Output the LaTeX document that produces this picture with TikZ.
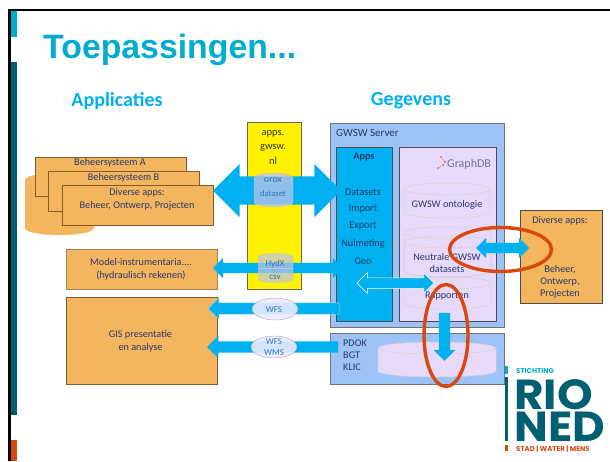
\documentclass[tikz,border=0pt]{standalone}
\usepackage{fontspec}
\setmainfont{Carlito}
\newfontfamily\titlefont{Liberation Sans}
\newfontfamily\logofont{Poppins}
\usetikzlibrary{shapes.geometric}
\usetikzlibrary{shapes.arrows}
\definecolor{rioCyan}{HTML}{00ADCF}
\definecolor{rioTeal}{HTML}{005F70}
\definecolor{rioOrange}{HTML}{D9480F}
\definecolor{arrowBlue}{HTML}{00B0F0}
\definecolor{boxOrange}{HTML}{F4B55F}
\definecolor{serverBlue}{HTML}{9DC3F6}
\definecolor{panelLilac}{HTML}{E7D9F9}
\definecolor{labelNavy}{HTML}{27386B}
\definecolor{labelBlue}{HTML}{2E75B6}
\tikzset{
  every node/.style={text=labelNavy,font=\fontsize{10.2}{12}\selectfont,inner sep=0pt,align=center},
  appbox/.style={draw=brown!70!black,fill=boxOrange,line width=0.8pt},
  serverbox/.style={draw=gray!90!black,fill=serverBlue,line width=0.8pt},
  blockboth/.style={double arrow,fill=arrowBlue,double arrow head extend=#1,double arrow head indent=0pt},
  blockone/.style={single arrow,fill=arrowBlue,single arrow head extend=#1,single arrow head indent=0pt},
  diskline/.style={draw=gray!35,line width=0.5pt},
  redring/.style={ellipse,draw=rioOrange,line width=3.4pt,fill=none},
  proxy/.style={ellipse,draw=gray!70,fill=blue!8,fill opacity=0.9,text=labelBlue,text opacity=1},
  smalltag/.style={text=labelBlue,font=\fontsize{#1}{10.5}\selectfont},
}
% name, look, centre x, top y, bottom y, radius x, radius y
\newcommand{\dbdisk}[7]{
  \coordinate (#1) at (#3,#4);
  \path[#2] (#3-#6,#4) -- (#3-#6,#5) arc[start angle=180,end angle=360,x radius=#6pt,y radius=#7pt] -- (#3+#6,#4) arc[start angle=0,end angle=180,x radius=#6pt,y radius=#7pt] arc[start angle=180,end angle=360,x radius=#6pt,y radius=#7pt];
}
\begin{document}
\begin{tikzpicture}[x=1pt,y=-1pt]
  \useasboundingbox (0,0) rectangle (610,461);
  % slide frame
  \fill[black] (8,9) rectangle (610,11);
  \fill[black] (8,9) rectangle (11,461);
  \fill[rioCyan] (11,11) rectangle (17,37);
  \fill[rioTeal] (11,62) rectangle (17,415);
  \fill[rioOrange] (11,440) rectangle (17,461);

  \node[anchor=base west,text=rioCyan,font=\titlefont\bfseries\fontsize{33.8}{35}\selectfont] (title) at (43,58) {Toepassingen...};
  \node[text=arrowBlue,font=\bfseries\fontsize{20}{22}\selectfont] (appshead) at (117,101) {Applicaties};
  \node[text=arrowBlue,font=\bfseries\fontsize{20}{22}\selectfont] (datahead) at (411,101) {Gegevens};

  % applications
  \dbdisk{sourcedb}{draw=boxOrange!80!white,fill=boxOrange}{59.5}{180}{228}{34.5}{7}
  \node[appbox,minimum width=151,minimum height=39] (sysA) at (110.5,176.5) {};
  \node (sysAtext) at (110,163) {Beheersysteem A};
  \node[appbox,minimum width=151,minimum height=40] (sysB) at (123.5,191) {};
  \node (sysBtext) at (123.5,178) {Beheersysteem B};
  \node[appbox,minimum width=151,minimum height=40] (sysC) at (137.5,205) {};
  \node (sysCtext) at (137,199.5) {Diverse apps:\\[1pt]Beheer, Ontwerp, Projecten};
  \node[appbox,draw=brown!60!gray,minimum width=151,minimum height=40] (model) at (141.5,269) {};
  \node (modeltext) at (141,269.5) {Model-instrumentaria....\\[1pt](hydraulisch rekenen)};
  \node[appbox,minimum width=151,minimum height=87] (gis) at (141.5,340.5) {};
  \node (gistext) at (140.5,341.5) {GIS presentatie\\[1pt]en analyse};

  \node[draw=gray!80!black,fill=yellow,line width=0.8pt,minimum width=54,minimum height=167] (portal) at (274,205.5) {};
  \node[text=black!80,font=\fontsize{10.5}{14.5}\selectfont] (portaltext) at (273,147) {apps.\\gwsw.\\nl};

  % server
  \node[serverbox,minimum width=174,minimum height=204] (server) at (417,225) {};
  \node[anchor=west,font=\fontsize{11}{12}\selectfont] (servertext) at (336,133) {GWSW Server};
  \node[draw=black!70,fill=arrowBlue,minimum width=56,minimum height=174] (apps) at (364,234) {};
  \node[font=\bfseries\fontsize{10.2}{12}\selectfont] (appstitle) at (364,157) {Apps};
  \foreach \y/\name/\word in {192/a/Datasets,209/b/Import,226/c/Export,244/d/Nulmeting,261/e/Geo}
  {
  \node (app\name) at (363,\y) {\word};
}
  \node[draw=black!70,fill=panelLilac,minimum width=97,minimum height=174] (graphdb) at (447.5,234) {};
  \node[serverbox,minimum width=174,minimum height=51] (lower) at (417,358.5) {};
  \node[anchor=west] (pdok) at (343,343) {PDOK};
  \node[anchor=west] (bgt) at (343,355) {BGT};
  \node[anchor=west] (klic) at (343,367) {KLIC};
  \dbdisk{tiledb}{diskline,fill=panelLilac}{437}{348}{371}{59}{6}

  % graphdb logo
  \node[anchor=west,text=gray!90!blue,font=\fontsize{12}{12}\selectfont] (graphlogo) at (447,164) {GraphDB};
  \foreach \x/\y/\name in {441/157/a,445/162/b,443/165/c,438/168/d}
  {
  \node[circle,fill=rioOrange!85,minimum size=2pt] (dot\name) at (\x,\y) {};
}
  \draw[rioOrange!70,line width=0.4pt] (dota) -- (dotb) -- (dotc) -- (dotd);

  \dbdisk{ontodb}{diskline}{447}{189}{212}{43}{6}
  \dbdisk{neutralback}{diskline}{447.5}{233}{271}{43.5}{6}
  \dbdisk{neutraldb}{diskline}{447.5}{242}{271}{43.5}{6}
  \dbdisk{reportdb}{diskline}{447.5}{283}{303}{43.5}{6}
  \node (ontotext) at (447,205) {GWSW ontologie};
  \node (neutraltext) at (447,263) {Neutrale GWSW\\datasets};
  \node (reporttext) at (447,296) {Rapporten};

  \node[appbox,draw=gray!60!black,minimum width=82,minimum height=93] (sideapps) at (561,256.5) {};
  \node (sidetitle) at (560,221) {Diverse apps:};
  \node (sidetext) at (560,282) {Beheer,\\Ontwerp,\\Projecten};

  % block arrows
  \node[blockboth=12.5,inner sep=14,minimum height=128] (bigflow) at (277,190.5) {};
  \node[blockboth=5,inner sep=5,minimum height=130] (hydflow) at (278,268) {};
  \node[blockone=5,shape border rotate=180,draw=white!60!arrowBlue,line width=0.4pt,inner sep=5.5,minimum height=131] (wfsflow) at (276.5,308.5) {};
  \node[blockone=5.5,shape border rotate=180,inner sep=5.5,minimum height=131] (wmsflow) at (275.5,347) {};
  \node[blockboth=5,draw=white,line width=0.5pt,inner sep=5,minimum height=77] (innerflow) at (395.5,283) {};
  \node[blockboth=5,inner sep=5,minimum height=53] (sideflow) at (502.5,248) {};
  \node[blockone=5,shape border rotate=270,inner sep=5.5,minimum height=48] (downflow) at (444.5,334) {};

  % proxies on the arrows
  \dbdisk{oroxdb}{draw=gray!45,fill=cyan!30!blue!25,fill opacity=0.75}{273.5}{178}{202}{19.5}{5}
  \node[smalltag=10] (oroxtext) at (273,180) {orox};
  \node[smalltag=8.5] (datasettext) at (273,194) {dataset};
  \dbdisk{hydxdb}{draw=gray!45,fill=cyan!30!blue!25,fill opacity=0.7}{275.5}{257}{279}{17.5}{3.5}
  \draw[gray!45] (258,268) -- (293,268);
  \node[smalltag=9] (hydxtext) at (275,264) {HydX};
  \node[smalltag=9] (csvtext) at (275,277) {csv};
  \node[proxy,minimum width=46,minimum height=22] (wfsring) at (275,309) {};
  \node[smalltag=9] (wfstext) at (274,310) {WFS};
  \node[proxy,minimum width=46,minimum height=22] (wmsring) at (274,347) {};
  \node[smalltag=9] (wmstext) at (274,347) {WFS\\WMS};

  % highlights
  \node[redring,minimum width=102,minimum height=44] (sidering) at (500.5,249.5) {};
  \node[redring,minimum width=44,minimum height=102] (downring) at (446,335.5) {};

  % logo
  \fill[rioTeal] (505,377) rectangle (507.5,441);
  \fill[rioCyan] (505,366) rectangle (507.5,374);
  \fill[rioOrange] (505,445) rectangle (507.5,451);
  \node[anchor=base west,text=rioCyan,font=\logofont\bfseries\fontsize{7}{8}\selectfont] (logotop) at (516,373) {STICHTING};
  \node[anchor=base west,text=rioTeal,font=\logofont\bfseries\fontsize{42}{42}\selectfont,text height=29pt,text depth=0pt,xscale=1.08] (logorio) at (514,409) {RIO};
  \node[anchor=base west,text=rioTeal,font=\logofont\bfseries\fontsize{42}{42}\selectfont,text height=29pt,text depth=0pt,xscale=1.07] (logoned) at (514,441) {NED};
  \node[anchor=base west,text=rioOrange,font=\logofont\bfseries\fontsize{7}{8}\selectfont] (logobottom) at (516,451) {STAD | WATER | MENS};
\end{tikzpicture}
\end{document}
